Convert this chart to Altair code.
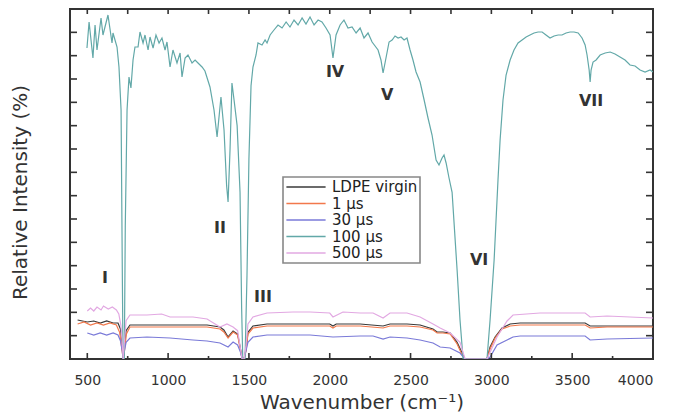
import altair as alt
import pandas as pd

SERIES = ["LDPE virgin", "1 µs", "30 µs", "100 µs", "500 µs"]
COLORS = ["#3a3a3a", "#f2784b", "#7a7ad8", "#62a8a8", "#e2a8e2"]

virgin_wn = [440, 500, 540, 580, 620, 660, 690, 705, 716, 722, 728, 740, 764, 869, 1012, 1154, 1241,
             1321, 1345, 1371, 1402, 1430, 1448, 1458, 1470, 1482, 1494, 1525, 1612, 1773, 1878, 2000,
             2020, 2040, 2188, 2330, 2373, 2478, 2559, 2639, 2664, 2700, 2745, 2788, 2819, 2837, 2973,
             2992, 3023, 3066, 3116, 3178, 3301, 3506, 3580, 3611, 3716, 4000]
virgin_int = [11.7, 11.1, 11.4, 10.8, 11.4, 10.8, 10.8, 9.0, 4, 0, 3, 8.5, 10.2, 10.2, 10.2, 10.2, 10.2,
              9.6, 8.7, 6.6, 8.4, 7.5, 3, 0, 0, 3, 8.0, 9.9, 10.5, 10.5, 10.5, 10.5,
              9.9, 10.5, 10.5, 9.9, 10.5, 10.5, 10.2, 9.0, 8.1, 8.1, 7.8, 5.0, 1.8, 0, 0,
              3.6, 6.6, 9.3, 10.5, 10.8, 10.8, 10.8, 10.8, 9.9, 9.9, 9.9]

us1_wn = [440, 480, 520, 560, 600, 640, 680, 700, 714, 722, 730, 742, 764, 869, 1012, 1154, 1241,
          1321, 1345, 1371, 1402, 1430, 1448, 1458, 1470, 1482, 1494, 1525, 1612, 1773, 1878, 2000,
          2020, 2040, 2188, 2330, 2373, 2478, 2559, 2639, 2664, 2700, 2745, 2788, 2819, 2837, 2973,
          2992, 3023, 3066, 3116, 3178, 3301, 3506, 3580, 3611, 3716, 4000]
us1_int = [10.5, 11.1, 10.2, 10.8, 10.2, 10.8, 10.2, 8.0, 3, 0, 2.5, 7.5, 9.6, 9.6, 9.6, 9.6, 9.6,
           9.0, 8.1, 6.3, 8.1, 7.2, 2.5, 0, 0, 2.5, 7.5, 9.3, 9.9, 9.9, 9.9, 9.9,
           9.3, 9.9, 9.9, 9.3, 9.9, 9.9, 9.6, 8.7, 7.8, 7.8, 7.5, 4.5, 1.2, 0, 0,
           3.0, 6.3, 9.0, 9.9, 10.2, 10.2, 10.2, 10.2, 9.3, 9.6, 9.6]

us30_wn = [500, 540, 580, 620, 660, 690, 705, 716, 722, 728, 740, 764, 869, 1012, 1154, 1241, 1321,
           1371, 1402, 1430, 1448, 1458, 1470, 1482, 1494, 1525, 1612, 1773, 1878, 2020, 2188, 2268,
           2330, 2373, 2478, 2559, 2639, 2683, 2745, 2806, 2837, 2973, 2992, 3035, 3097, 3134, 3178,
           3301, 3506, 3580, 3611, 3716, 4000]
us30_int = [7.8, 7.2, 7.8, 7.2, 7.8, 7.2, 5.5, 2.5, 0, 2, 5.0, 6.3, 6.6, 6.3, 5.7, 5.4, 4.8,
            3.6, 5.1, 4.2, 2, 0, 0, 2.5, 5.0, 6.6, 7.2, 7.2, 7.2, 6.6, 6.9, 6.9,
            6.0, 6.6, 6.3, 5.7, 4.8, 3.6, 3.3, 1.8, 0, 0, 0.6, 4.2, 5.7, 6.6, 6.9,
            6.9, 6.9, 6.9, 5.7, 6.0, 6.3]

us100_wn = [498, 511, 535, 548, 560, 585, 597, 628, 653, 659, 684, 696, 709, 716, 721, 729, 735, 746,
            758, 770, 783, 795, 814, 826, 845, 857, 876, 888, 907, 925, 944, 962, 981, 993, 1012,
            1030, 1055, 1074, 1086, 1105, 1123, 1148, 1167, 1185, 1210, 1228, 1259, 1284, 1303, 1327,
            1346, 1362, 1371, 1383, 1395, 1408, 1427, 1445, 1455, 1462, 1476, 1488, 1500, 1513, 1525,
            1544, 1556, 1581, 1600, 1612, 1631, 1655, 1680, 1705, 1730, 1754, 1779, 1804, 1829, 1853,
            1878, 1903, 1928, 1952, 1977, 2002, 2020, 2039, 2064, 2088, 2113, 2138, 2163, 2188, 2212,
            2237, 2262, 2299, 2317, 2330, 2348, 2367, 2386, 2404, 2423, 2441, 2460, 2478, 2497, 2515,
            2534, 2559, 2584, 2608, 2633, 2658, 2676, 2695, 2707, 2720, 2738, 2757, 2788, 2806, 2825,
            2973, 2992, 3017, 3041, 3054, 3072, 3091, 3116, 3140, 3165, 3190, 3215, 3239, 3264, 3289,
            3314, 3338, 3363, 3388, 3413, 3437, 3462, 3487, 3512, 3537, 3561, 3580, 3592, 3605, 3611,
            3617, 3629, 3648, 3673, 3704, 3735, 3765, 3796, 3827, 3858, 3889, 3920, 3951, 3982, 4000]
us100_int = [93.3, 101.1, 90.3, 100.2, 92.7, 102.3, 97.2, 103.2, 94.8, 97.8, 93.6, 87.6, 74.7, 30, 0, 0, 40, 74.7,
             84.6, 81.3, 89.7, 93.6, 93.6, 98.1, 94.8, 97.2, 92.7, 96.6, 93.3, 97.2, 94.8, 96.3, 92.7, 95.1, 87.6,
             92.7, 88.8, 91.8, 84.6, 90.3, 91.2, 88.8, 89.7, 88.8, 87.6, 86.4, 81.6, 74.7, 66.6, 78.6,
             68.7, 52, 47.1, 62.7, 82.8, 77.7, 70, 50, 15, 0, 0, 25, 60, 82, 87.6,
             91.2, 94.8, 94.2, 95.7, 94.8, 97.2, 98.7, 100.2, 99.3, 101.1, 99.6, 101.7, 100.2, 102.3, 100.5,
             102.6, 100.2, 101.7, 101.1, 99.3, 97.2, 90.3, 97.2, 100.2, 101.7, 99.3, 99.6, 97.8, 99.3, 96.3,
             97.8, 95.1, 92.7, 89.7, 85.8, 90.3, 95.1, 95.7, 96.9, 96.3, 96.6, 95.7, 96.3, 92.7, 89.7,
             86.1, 83.1, 77.7, 72.3, 67.2, 59.7, 58.2, 60.3, 61.2, 58.8, 54.3, 50.0, 26.7, 11.7, 0,
             0, 11.7, 29.7, 53.7, 65.7, 77.7, 85.2, 89.7, 92.7, 94.8, 95.7, 96.6, 97.2, 97.8, 98.1,
             98.1, 97.2, 96.3, 96.9, 97.2, 97.2, 97.8, 98.1, 98.1, 97.8, 96.3, 94.2, 91.2, 86.7, 83.1,
             86.7, 89.1, 89.7, 91.2, 91.8, 92.1, 91.5, 90.6, 89.7, 88.2, 87.9, 86.7, 86.1, 86.7, 86.1]

us500_wn = [500, 520, 540, 560, 585, 600, 630, 655, 680, 695, 708, 716, 722, 728, 740, 764, 869, 960,
            1012, 1154, 1241, 1321, 1364, 1402, 1430, 1448, 1458, 1470, 1482, 1494, 1525, 1612, 1773,
            1878, 2000, 2020, 2082, 2188, 2268, 2330, 2373, 2478, 2559, 2639, 2683, 2745, 2806, 2837,
            2973, 2992, 3035, 3097, 3134, 3301, 3506, 3580, 3611, 3716, 4000]
us500_int = [14.4, 15.3, 14.4, 15.6, 14.7, 15.9, 15.0, 15.6, 14.7, 13.5, 10, 5, 0, 4, 11.5, 13.2, 13.2, 13.5,
             12.6, 12.6, 12.0, 9.6, 10.5, 9.6, 8.5, 3, 0, 0, 4, 10.5, 12.6, 13.8, 14.1,
             14.1, 13.8, 12.6, 14.1, 13.8, 13.8, 12.3, 13.8, 13.8, 12.6, 10.5, 9.3, 7.8, 5, 0,
             0, 2, 6.6, 11.4, 13.2, 13.8, 13.8, 13.8, 12.6, 12.9, 12.3]

band_labels = ["I", "II", "III", "IV", "V", "VI", "VII"]
band_wn = [610, 1321, 1587, 2033, 2355, 2924, 3617]
band_int = [24.3, 39.3, 18.6, 86.1, 79.2, 29.7, 77.4]

x_label_values = [500, 1000, 1500, 2000, 2500, 3000, 3500, 4000]
y_tick_values = [7, 14, 21, 28, 35, 42, 49, 56, 63, 70, 77, 84, 91, 98]
top_tick_values = list(range(500, 4001, 250))
bottom_major_values = list(range(500, 4001, 500))
bottom_minor_values = list(range(750, 4000, 500))

frames = []
for name, w, v in [(SERIES[0], virgin_wn, virgin_int), (SERIES[1], us1_wn, us1_int),
                   (SERIES[2], us30_wn, us30_int), (SERIES[3], us100_wn, us100_int),
                   (SERIES[4], us500_wn, us500_int)]:
    d = pd.DataFrame({"wavenumber": w, "intensity": v})
    d["series"] = name
    frames.append(d)
spectra = pd.concat(frames, ignore_index=True)

W, H = 583, 350
FONT = "DejaVu Sans"
INK = "#333333"

xs = alt.Scale(domain=[393, 4000], nice=False, zero=False)
ys = alt.Scale(domain=[0, 105], nice=False, zero=False)

x_axis = alt.Axis(values=x_label_values, format="d", title="Wavenumber (cm⁻¹)", ticks=False, tickSize=0,
                  domain=False, grid=False, labelFont=FONT, labelFontSize=14, labelColor=INK,
                  labelPadding=14, titleFont=FONT, titleFontSize=20, titleColor=INK,
                  titleFontWeight="normal", titleY=43, titleBaseline="middle")
y_axis = alt.Axis(title="Relative Intensity (%)", labels=False, ticks=False, tickSize=0,
                  domain=False, grid=False, titleFont=FONT, titleFontSize=20, titleColor=INK,
                  titleFontWeight="normal", titleAngle=270, titleX=-50, titleY=183,
                  titleAlign="center", titleBaseline="middle")

# right-align the numbers of the time labels (LDPE virgin stays as it is)
label_expr = ("length(datum.label) == 4 ? '\u00a0\u00a0\u00a0\u00a0' + datum.label : "
              "length(datum.label) == 5 ? '\u00a0\u00a0' + datum.label : datum.label")

lines = alt.Chart(spectra).mark_line(strokeWidth=1.2, clip=True).encode(
    x=alt.X("wavenumber:Q", scale=xs, axis=x_axis),
    y=alt.Y("intensity:Q", scale=ys, axis=y_axis),
    color=alt.Color("series:N", scale=alt.Scale(domain=SERIES, range=COLORS),
                    legend=alt.Legend(title=None, orient="none", legendX=213, legendY=168,
                                      direction="vertical", fillColor="white", strokeColor="#888888",
                                      padding=2, symbolType="M-2.8,0H2.8", symbolSize=196,
                                      symbolStrokeWidth=1.5, symbolOffset=13, labelOffset=18,
                                      labelFont=FONT, labelFontSize=15, labelColor="#222222",
                                      rowPadding=0.5, labelExpr=label_expr)),
)

labels = alt.Chart(pd.DataFrame({"band": band_labels, "wn": band_wn, "val": band_int})).mark_text(
    font=FONT, fontSize=16, fontWeight="bold", color=INK
).encode(x=alt.X("wn:Q", scale=xs, axis=x_axis), y=alt.Y("val:Q", scale=ys, axis=y_axis), text="band:N")

tick_style = dict(color=INK, strokeWidth=1.6)
left_ticks = alt.Chart(pd.DataFrame({"t": y_tick_values})).mark_rule(**tick_style).encode(
    y=alt.Y("t:Q", scale=ys, axis=y_axis), x=alt.value(0), x2=alt.value(7))
right_ticks = alt.Chart(pd.DataFrame({"t": y_tick_values})).mark_rule(**tick_style).encode(
    y=alt.Y("t:Q", scale=ys, axis=y_axis), x=alt.value(W - 7), x2=alt.value(W))
top_ticks = alt.Chart(pd.DataFrame({"t": top_tick_values})).mark_rule(**tick_style).encode(
    x=alt.X("t:Q", scale=xs, axis=x_axis), y=alt.value(0), y2=alt.value(5))
bottom_major = alt.Chart(pd.DataFrame({"t": bottom_major_values})).mark_rule(**tick_style).encode(
    x=alt.X("t:Q", scale=xs, axis=x_axis), y=alt.value(H - 6), y2=alt.value(H))
bottom_minor = alt.Chart(pd.DataFrame({"t": bottom_minor_values})).mark_rule(**tick_style).encode(
    x=alt.X("t:Q", scale=xs, axis=x_axis), y=alt.value(H - 3), y2=alt.value(H))

chart = alt.layer(lines, labels, left_ticks, right_ticks, top_ticks, bottom_major, bottom_minor).properties(
    width=W, height=H,
    padding={"left": 70, "top": 9, "right": 21, "bottom": 56},
    autosize=alt.AutoSizeParams(type="none"),
    background="white",
).configure_view(stroke=INK, strokeWidth=2).configure_legend(strokeWidth=1.6)

chart.save("out.html", embed_options={"renderer": "svg", "actions": False})
